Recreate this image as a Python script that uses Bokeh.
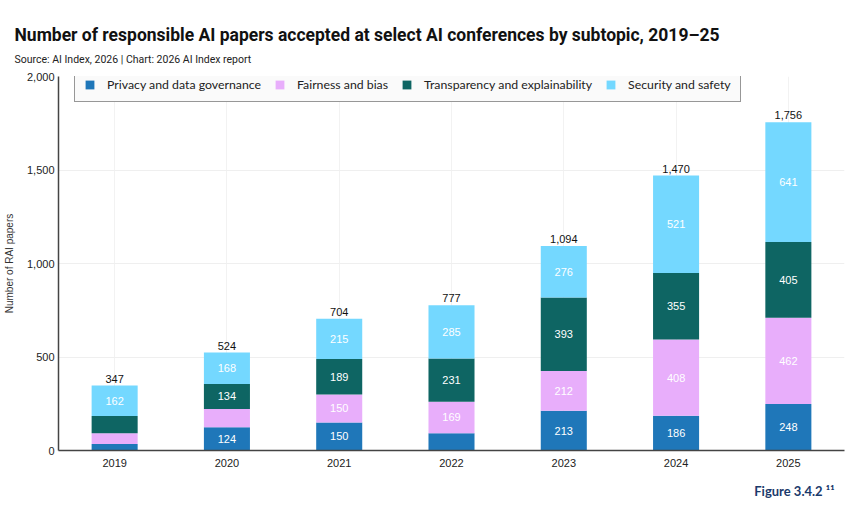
from bokeh.plotting import figure
from bokeh.models import (ColumnDataSource, FactorRange, Range1d, Legend, LegendItem,
                          Title, NumeralTickFormatter, FixedTicker, LabelSet)
from bokeh.core.properties import value
from bokeh.embed import file_html
from bokeh.resources import INLINE

# Responsible AI papers by subtopic, 2019-25
years = ["2019", "2020", "2021", "2022", "2023", "2024", "2025"]
privacy = [35, 124, 150, 92, 213, 186, 248]
fairness = [57, 98, 150, 169, 212, 408, 462]
transparency = [93, 134, 189, 231, 393, 355, 405]
security = [162, 168, 215, 285, 276, 521, 641]

subtopics = ["Privacy and data governance", "Fairness and bias",
             "Transparency and explainability", "Security and safety"]
colors = ["#1F77B9", "#E8AEFB", "#0E6563", "#74D8FF"]
y_ticks = [0, 500, 1000, 1500, 2000]

series = [privacy, fairness, transparency, security]
keys = ["privacy", "fairness", "transparency", "security"]

data = {"year": years}
for k, s in zip(keys, series):
    data[k] = s
source = ColumnDataSource(data)

p = figure(x_range=FactorRange(*years, range_padding=0), y_range=Range1d(0, 2000),
           width=850, height=514, output_backend="svg", toolbar_location=None,
           min_border_left=57, min_border_right=6, min_border_top=76, min_border_bottom=64)
p.outline_line_color = None
p.background_fill_color = "white"
p.border_fill_color = "white"

# Main title on top, subtitle directly below it
p.title.text = "Number of responsible AI papers accepted at select AI conferences by subtopic, 2019\u201325"
p.title.text_font = "Roboto"
p.title.text_font_size = "17.5px"
p.title.text_font_style = "bold"
p.title.text_color = "#111111"
p.title.align = "left"
p.title.offset = -44
p.title.standoff = -10
p.add_layout(Title(text="Source: AI Index, 2026 | Chart: 2026 AI Index report",
                   text_font="Roboto", text_font_size="10.5px", text_font_style="normal",
                   text_color="#222222", align="left", offset=-44, standoff=22), "above")

renderers = p.vbar_stack(keys, x="year", width=0.41, color=colors, source=source,
                         line_color=None)

# Segment labels (white) for segments large enough to hold text
seg_x, seg_y, seg_t = [], [], []
for i, yr in enumerate(years):
    base = 0
    for s in series:
        v = s[i]
        if v >= 100:
            seg_x.append(yr)
            seg_y.append(base + v / 2)
            seg_t.append(f"{v:,}")
        base += v
seg_src = ColumnDataSource(dict(x=seg_x, y=seg_y, t=seg_t))
p.add_layout(LabelSet(x="x", y="y", text="t", source=seg_src, text_color="white",
                      text_font=value("Liberation Sans"), text_font_size="11px",
                      text_align="center", text_baseline="middle"))

# Totals above each bar
totals = [sum(s[i] for s in series) for i in range(len(years))]
tot_src = ColumnDataSource(dict(x=years, y=totals, t=[f"{t:,}" for t in totals]))
p.add_layout(LabelSet(x="x", y="y", text="t", source=tot_src, text_color="#111111",
                      text_font=value("Liberation Sans"), text_font_size="11px",
                      text_align="center", text_baseline="bottom", y_offset=3))

# Axes
p.yaxis.ticker = FixedTicker(ticks=y_ticks)
p.yaxis.formatter = NumeralTickFormatter(format="0,0")
p.yaxis.axis_label = "Number of RAI papers"
p.yaxis.axis_label_text_font = "Liberation Sans"
p.yaxis.axis_label_text_font_size = "10px"
p.yaxis.axis_label_text_font_style = "normal"
p.yaxis.axis_label_text_color = "#333333"
p.yaxis.axis_label_standoff = 9
for ax in (p.xaxis, p.yaxis):
    ax.axis_line_color = "#444444"
    ax.axis_line_width = 1.5
    ax.major_tick_line_color = None
    ax.minor_tick_line_color = None
    ax.major_tick_out = 0
    ax.major_tick_in = 0
    ax.minor_tick_out = 0
    ax.minor_tick_in = 0
    ax.major_label_text_font = "Liberation Sans"
    ax.major_label_text_font_size = "11px"
    ax.major_label_text_color = "#222222"
p.yaxis.major_label_standoff = 4
p.xaxis.major_label_standoff = 8

p.ygrid.grid_line_color = "#EFEFEF"
p.xgrid.grid_line_color = "#F2F2F2"

# Legend
items = [LegendItem(label=lbl, renderers=[r]) for lbl, r in zip(subtopics, renderers)]
legend = Legend(items=items, orientation="horizontal", location=(16, 348),
                glyph_width=11, glyph_height=11, label_standoff=12, spacing=13,
                padding=9, margin=0, label_height=13,
                label_text_font="Lato", label_text_font_size="12.3px",
                label_text_color="#222222",
                border_line_color="#333333", border_line_width=1.5,
                background_fill_color="#FAFAFA", background_fill_alpha=1)
p.add_layout(legend, "center")

# Figure number, bottom right
p.add_layout(Title(text="Figure 3.4.2 \u00b9\u00b9", text_font="Lato", text_font_style="bold",
                   text_font_size="13px", text_color="#1B3A6B", align="right",
                   offset=10, standoff=22), "below")

open("out.html", "w").write(file_html(p, INLINE))
